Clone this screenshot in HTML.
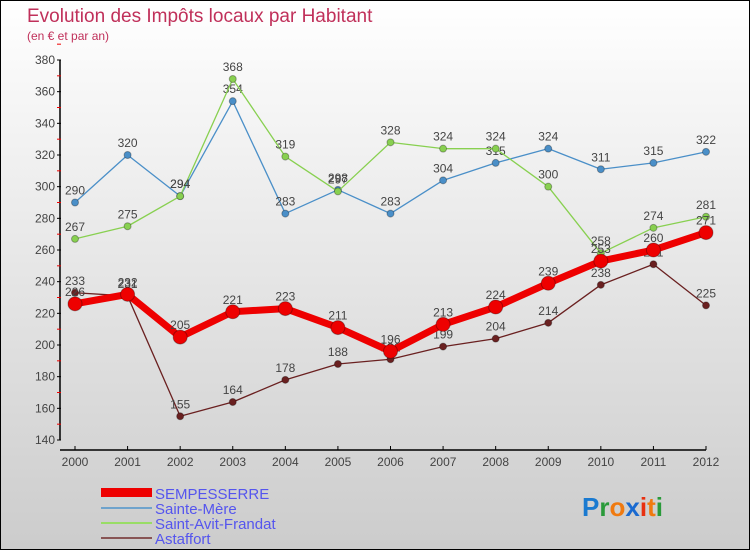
<!DOCTYPE html>
<html><head><meta charset="utf-8"><style>
body{margin:0;}
#wrap{width:750px;height:550px;position:relative;box-sizing:border-box;border:1px solid #000;background:linear-gradient(#fff,#ccc);font-family:"Liberation Sans",sans-serif;overflow:hidden}
</style></head><body>
<div id="wrap">
<svg id="svg" width="750" height="550" style="position:absolute;left:-1px;top:-1px">
<text x="27" y="22" font-size="19" fill="#c0305a">Evolution des Impôts locaux par Habitant</text>
<text x="27" y="40" font-size="12" fill="#c0305a">(en € et par an)</text>
<g id="axes"></g><g id="series"></g>
<g>
<rect x="101" y="488" width="51" height="9" fill="#e00"/>
<text x="155" y="499" font-size="15" fill="#5555ee">SEMPESSERRE</text>
<line x1="101" y1="508" x2="152" y2="508" stroke="#6fa3cc" stroke-width="2"/>
<text x="155" y="514" font-size="15" fill="#5555ee">Sainte-Mère</text>
<line x1="101" y1="523" x2="152" y2="523" stroke="#99dd66" stroke-width="2"/>
<text x="155" y="529" font-size="15" fill="#5555ee">Saint-Avit-Frandat</text>
<line x1="101" y1="538" x2="152" y2="538" stroke="#885555" stroke-width="2"/>
<text x="155" y="544" font-size="15" fill="#5555ee">Astaffort</text>
</g>
<text x="582" y="516" font-size="26" font-weight="bold"><tspan fill="#1a7ad0">P</tspan><tspan fill="#2a9a3a">r</tspan><tspan fill="#f07a10">o</tspan><tspan fill="#1a6ad0">x</tspan><tspan fill="#e83010">i</tspan><tspan fill="#f07a10">t</tspan><tspan fill="#2a9a3a">i</tspan></text>
</svg>
</div>
<script>
const years=[2000,2001,2002,2003,2004,2005,2006,2007,2008,2009,2010,2011,2012];
const yTicks=[140,160,180,200,220,240,260,280,300,320,340,360,380];
const sempesserre=[226,232,205,221,223,211,196,213,224,239,253,260,271];
const sainteMere=[290,320,294,354,283,298,283,304,315,324,311,315,322];
const saintAvit=[267,275,294,368,319,297,328,324,324,300,258,274,281];
const astaffort=[233,231,155,164,178,188,191,199,204,214,238,251,225];
const NS="http://www.w3.org/2000/svg";
function X(i){return 75+i*(706-75)/12;}
function Y(v){return 440-(v-140)*380/240;}
function mk(t,a,p){const e=document.createElementNS(NS,t);for(const k in a)e.setAttribute(k,a[k]);p.appendChild(e);return e;}
const ax=document.getElementById('axes');
const yl=mk('line',{x1:60,y1:60,x2:60,y2:440,stroke:'#000','stroke-width':1.5},ax);


yTicks.forEach(v=>{
 mk('line',{x1:57,y1:Y(v),x2:61,y2:Y(v),stroke:'#000'},ax);
 mk('line',{x1:57,y1:Y(v+10),x2:61,y2:Y(v+10),stroke:'#e00'},ax);
 const t=mk('text',{x:55,y:Y(v)+4,'font-size':12,fill:'#444','text-anchor':'end'},ax);t.textContent=v;
 
 
});
const xl=mk('line',{x1:60,y1:450,x2:706,y2:450,stroke:'#000','stroke-width':1.5},ax);


years.forEach((y,i)=>{
 mk('line',{x1:X(i),y1:446,x2:X(i),y2:450,stroke:'#000'},ax);
 const t=mk('text',{x:X(i),y:466,'font-size':12,fill:'#444','text-anchor':'middle'},ax);t.textContent=y;
 
 
});
const sg=document.getElementById('series');
function draw(data,color,w,r,name){
 const g=mk('g',{},sg);
 
 
 mk('polyline',{points:data.map((v,i)=>X(i)+','+Y(v)).join(' '),fill:'none',stroke:color,'stroke-width':w,'stroke-linejoin':'round'},g);
 data.forEach((v,i)=>{
  const c=mk('circle',{cx:X(i),cy:Y(v),r:r,fill:color,stroke:'rgba(0,0,0,0.3)'},g);
  
  
  const t=mk('text',{x:X(i),y:Y(v)-8,'font-size':12,fill:'#444','text-anchor':'middle'},g);t.textContent=v;
  
  
 });
}
draw(sainteMere,'#4a8fc8',1.3,3.5,'sainte-mere');
draw(saintAvit,'#88d050',1.3,3.5,'saint-avit');
draw(astaffort,'#6a2020',1.3,3.5,'astaffort');
draw(sempesserre,'#ee0000',7,7,'sempesserre');
</script>
</body></html>
